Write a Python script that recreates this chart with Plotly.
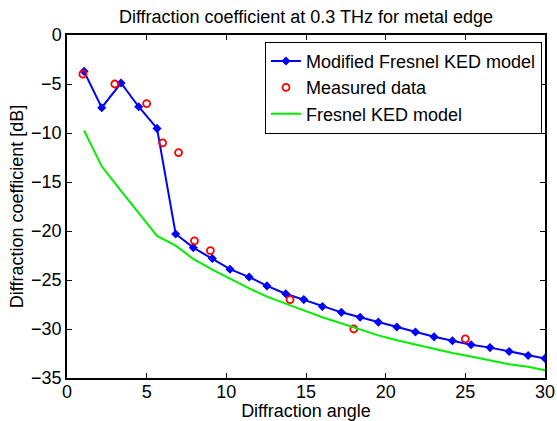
import plotly.graph_objects as go

# Modified Fresnel KED model
angle_model = [1.07, 2.18, 3.39, 4.5, 5.65, 6.82, 7.93, 9.12, 10.23, 11.43, 12.55, 13.73,
               14.86, 16.03, 17.22, 18.4, 19.54, 20.7, 21.87, 23.04, 24.19, 25.36, 26.55,
               27.75, 28.94, 30.0]
modified_ked = [-3.71, -7.42, -4.9, -7.32, -9.53, -20.3, -21.7, -22.8, -23.9, -24.7, -25.6,
                -26.4, -27.0, -27.7, -28.3, -28.8, -29.3, -29.8, -30.3, -30.8, -31.2, -31.6,
                -31.9, -32.3, -32.7, -33.0]
fresnel_ked = [-9.75, -13.4, -15.9, -18.2, -20.5, -21.5, -22.85, -23.95, -24.9, -25.85, -26.7,
               -27.45, -28.1, -28.8, -29.4, -30.0, -30.65, -31.15, -31.6, -32.0, -32.45, -32.8,
               -33.2, -33.6, -33.85, -34.2]

# Measured data
angle_meas = [1, 3, 5, 6, 7, 8, 9, 14, 18, 25]
measured = [-4, -5, -7, -11, -12, -21, -22, -27, -30, -31]

font = "Liberation Sans, Arial, Helvetica, sans-serif"
FS = 18

fig = go.Figure()
fig.add_trace(go.Scatter(x=angle_model, y=modified_ked, mode="lines+markers",
                         name="Modified Fresnel KED model",
                         line=dict(color="#0000ff", width=2),
                         marker=dict(symbol="diamond", size=7, color="#0000ff")))
fig.add_trace(go.Scatter(x=angle_meas, y=measured, mode="markers", name="Measured data",
                         marker=dict(symbol="circle-open", size=7, color="#ff0000",
                                     line=dict(width=1.8, color="#ff0000"))))
fig.add_trace(go.Scatter(x=angle_model, y=fresnel_ked, mode="lines", name="Fresnel KED model",
                         line=dict(color="#00ee00", width=2)))

axis_common = dict(showgrid=False, zeroline=False, showline=True, linecolor="black",
                   linewidth=1.5, mirror="ticks", ticks="inside", ticklen=5,
                   tickcolor="black", tickwidth=1, automargin=False,
                   tickfont=dict(family=font, size=FS, color="black"))

fig.update_layout(
    template="none",
    width=557, height=421,
    paper_bgcolor="white", plot_bgcolor="white",
    margin=dict(l=67, r=12, t=35, b=43, pad=0),
    title=dict(text="Diffraction coefficient at 0.3 THz for metal edge",
               x=0.5, xref="paper", xanchor="center", y=1 - 17 / 421, yanchor="middle",
               font=dict(family=font, size=FS, color="black")),
    xaxis=dict(range=[0, 30], tickvals=[0, 5, 10, 15, 20, 25, 30],
               ticklabelstandoff=-3,
               title=dict(text="Diffraction angle", standoff=7,
                          font=dict(family=font, size=FS, color="black")),
               **axis_common),
    yaxis=dict(range=[-35, 0], tickvals=[0, -5, -10, -15, -20, -25, -30, -35],
               title=dict(text="Diffraction coefficient [dB]", standoff=3,
                          font=dict(family=font, size=FS, color="black")),
               **axis_common),
    legend=dict(x=0.9937, xanchor="right", y=0.98, yanchor="top",
                bordercolor="black", borderwidth=1, bgcolor="white",
                font=dict(family=font, size=FS, color="black"),
                tracegroupgap=0, itemwidth=30),
    showlegend=True,
)

fig.write_html("out.html")
